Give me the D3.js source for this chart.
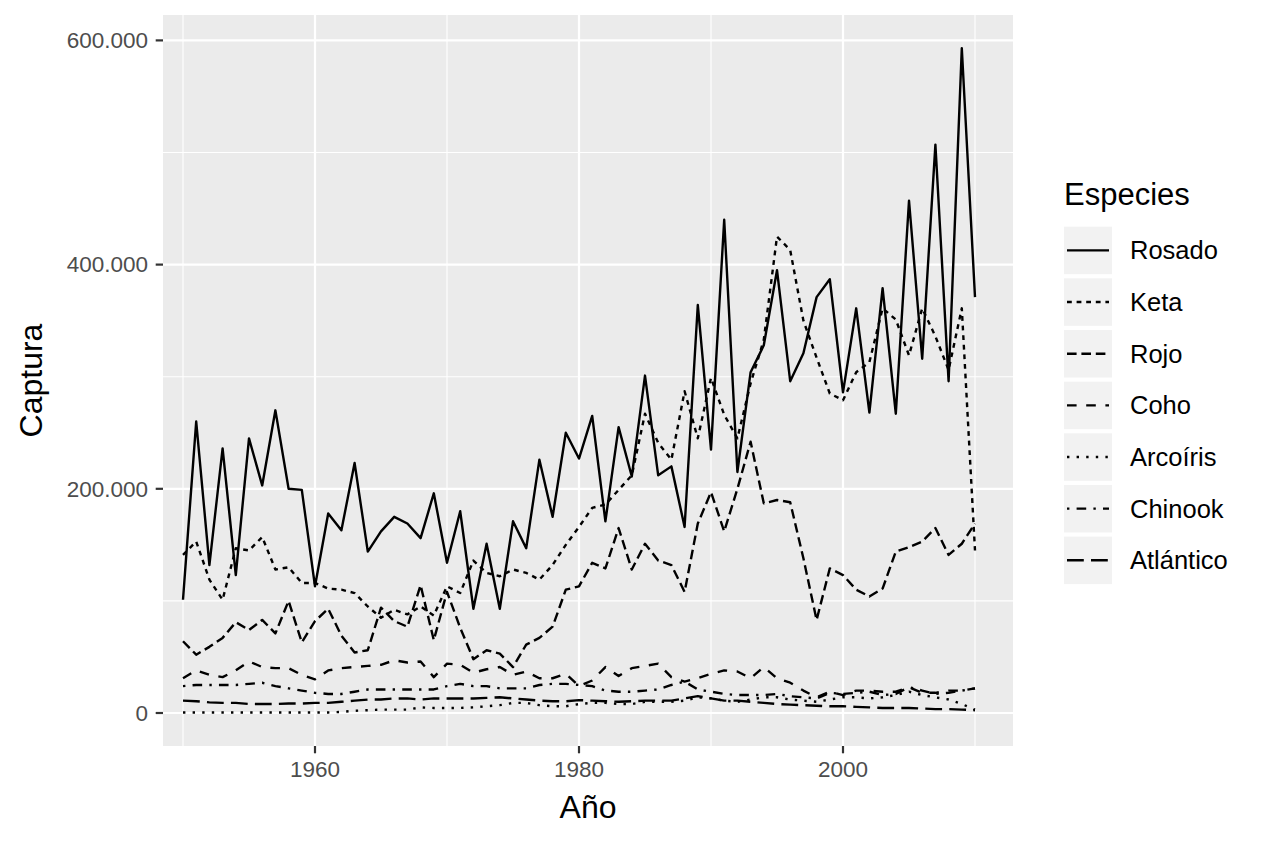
<!DOCTYPE html>
<html>
<head>
<meta charset="utf-8">
<script src="https://d3js.org/d3.v7.min.js"></script>
<style>
    body { margin: 0; background: #fff; }
    text { font-family: "Liberation Sans", Arial, sans-serif; }
</style>
</head>
<body>
<div class="chart"></div>
<script>
// capturas en miles, 1950-2010
let years = d3.range(1950, 2011)
let especies = ["Rosado", "Keta", "Rojo", "Coho", "Arcoíris", "Chinook", "Atlántico"]

let rosado = [101, 260, 132, 236, 123, 245, 203, 270, 200, 199,
    113, 178, 163, 223, 144, 162, 175, 169, 156, 196,
    134, 180, 93, 151, 93, 171, 147, 226, 175, 250,
    227, 265, 171, 255, 211, 301, 212, 220, 166, 364,
    235, 440, 215, 304, 328, 395, 296, 321, 371, 387,
    286, 361, 268, 379, 267, 457, 316, 507, 296, 593,
    371]
let keta = [141, 153, 119, 101, 147, 145, 157, 128, 130, 116,
    116, 111, 110, 107, 95, 85, 92, 88, 95, 87,
    113, 107, 136, 125, 122, 128, 125, 119, 132, 150,
    166, 183, 186, 199, 212, 267, 241, 226, 287, 245,
    299, 266, 245, 294, 333, 425, 413, 350, 317, 285,
    279, 304, 313, 361, 351, 319, 361, 336, 306, 361,
    145]
let rojo = [64, 52, 59, 67, 81, 74, 83, 71, 100, 63,
    82, 93, 69, 54, 56, 94, 82, 77, 114, 65,
    108, 76, 48, 56, 53, 41, 61, 67, 77, 110,
    113, 134, 129, 165, 128, 151, 136, 132, 108, 169,
    197, 162, 200, 242, 187, 190, 188, 138, 83, 129,
    123, 110, 104, 111, 144, 148, 153, 165, 141, 151,
    169]
let coho = [31, 38, 34, 32, 38, 46, 41, 40, 40, 34,
    30, 38, 40, 41, 42, 43, 47, 45, 46, 32,
    44, 43, 36, 39, 41, 34, 37, 31, 31, 35,
    24, 29, 41, 33, 40, 42, 44, 32, 28, 31,
    35, 38, 37, 31, 41, 31, 27, 20, 14, 19,
    16, 20, 20, 19, 19, 23, 18, 18, 20, 20,
    22]
let arcoiris = [0.5, 0.5, 0.5, 0.5, 0.5, 0.5, 0.5, 0.5, 0.5, 0.5,
    0.5, 0.5, 1, 2, 2.5, 3, 3, 3, 5, 4.5,
    4.5, 4.5, 5, 6, 7, 9, 9, 7, 6, 6,
    8, 9, 9, 8, 8, 10, 10, 10, 11, 14,
    13, 11, 10, 12, 14, 14, 12, 11, 10, 12,
    14, 14, 13, 14, 16, 19, 16, 14, 12, 8,
    3]
let chinook = [24, 25, 25, 25, 25, 26, 27, 24, 22, 20,
    18, 17, 17, 19, 21, 21, 21, 21, 21, 21,
    24, 26, 24, 24, 22, 22, 22, 25, 26, 26,
    25, 24, 20, 19, 19, 20, 21, 25, 28, 21,
    19, 17, 16, 16, 16, 17, 15, 14, 13, 18,
    17, 18, 19, 16, 17, 23, 20, 17, 18, 20,
    22]
let atlantico = [11, 10.5, 9.5, 9, 9, 8, 8, 8, 8.5, 8.5,
    9, 9, 10, 11, 12, 12, 13, 13, 12, 13,
    13, 13, 13, 13.5, 14, 13, 12, 11, 10.5, 10.5,
    11.5, 11, 10.5, 10, 10.5, 11, 11, 11, 13, 15,
    13, 11, 11, 10, 9, 8, 7.5, 7, 6.5, 6,
    6, 5.5, 5, 4.5, 4.5, 4.5, 4, 3.5, 3.5, 3,
    2.5]

let series = [rosado, keta, rojo, coho, arcoiris, chinook, atlantico]
let yMajor = [0, 200, 400, 600], yMinor = [100, 300, 500]
let xMajor = [1960, 1980, 2000], xMinor = [1950, 1970, 1990, 2010]

let width = 1264, height = 843
let panel = {left: 163, right: 1013, top: 15, bottom: 746}
let lw = 2.4, gw = 2.2
// tipos de linea de ggplot: solid, 22, 42, 44, 13, 1343, 73
let dashes = ["none", [2, 2], [4, 2], [4, 4], [1, 3], [1, 3, 4, 3], [7, 3]]
    .map(d => d === "none" ? "none" : d.map(v => v * lw).join(","))

let svg = d3.select(".chart")
    .append("svg")
    .attr("width", width)
    .attr("height", height)

let xScale = d3.scaleLinear().domain([1950, 2010]).range([183, 975])
let yScale = d3.scaleLinear().domain([0, 600]).range([713, 40.4])

let es = d3.formatLocale({decimal: ",", thousands: ".", grouping: [3], currency: ["", "€"]})
let fmt = es.format(",")

svg.append("rect")
    .attr("x", panel.left)
    .attr("y", panel.top)
    .attr("width", panel.right - panel.left)
    .attr("height", panel.bottom - panel.top)
    .attr("fill", "#ebebeb")

//rejilla
let grid = svg.append("g")
grid.selectAll(".ymin").data(yMinor).enter().append("line")
    .attr("x1", panel.left).attr("x2", panel.right)
    .attr("y1", d => yScale(d)).attr("y2", d => yScale(d))
    .attr("stroke", "#fff").attr("stroke-width", gw / 2)
grid.selectAll(".xmin").data(xMinor).enter().append("line")
    .attr("y1", panel.top).attr("y2", panel.bottom)
    .attr("x1", d => xScale(d)).attr("x2", d => xScale(d))
    .attr("stroke", "#fff").attr("stroke-width", gw / 2)
grid.selectAll(".ymaj").data(yMajor).enter().append("line")
    .attr("x1", panel.left).attr("x2", panel.right)
    .attr("y1", d => yScale(d)).attr("y2", d => yScale(d))
    .attr("stroke", "#fff").attr("stroke-width", gw)
grid.selectAll(".xmaj").data(xMajor).enter().append("line")
    .attr("y1", panel.top).attr("y2", panel.bottom)
    .attr("x1", d => xScale(d)).attr("x2", d => xScale(d))
    .attr("stroke", "#fff").attr("stroke-width", gw)

//lineas
let line = d3.line()
    .x((d, i) => xScale(years[i]))
    .y(d => yScale(d))
svg.append("g")
    .selectAll("path")
    .data(series)
    .enter()
    .append("path")
    .attr("d", d => line(d))
    .attr("fill", "none")
    .attr("stroke", "#000")
    .attr("stroke-width", lw)
    .attr("stroke-linejoin", "round")
    .attr("stroke-dasharray", (d, i) => dashes[i])

//ejes
let ticks = svg.append("g").attr("stroke", "#333").attr("stroke-width", gw)
ticks.selectAll(".ty").data(yMajor).enter().append("line")
    .attr("x1", panel.left - 7.3).attr("x2", panel.left)
    .attr("y1", d => yScale(d)).attr("y2", d => yScale(d))
ticks.selectAll(".tx").data(xMajor).enter().append("line")
    .attr("y1", panel.bottom).attr("y2", panel.bottom + 7.3)
    .attr("x1", d => xScale(d)).attr("x2", d => xScale(d))

svg.append("g")
    .selectAll("text")
    .data(yMajor)
    .enter()
    .append("text")
    .attr("x", panel.left - 15)
    .attr("y", d => yScale(d))
    .attr("dy", "0.35em")
    .attr("text-anchor", "end")
    .attr("font-size", 22.5)
    .attr("fill", "#4d4d4d")
    .text(d => fmt(d * 1000))
svg.append("g")
    .selectAll("text")
    .data(xMajor)
    .enter()
    .append("text")
    .attr("x", d => xScale(d))
    .attr("y", panel.bottom + 31)
    .attr("text-anchor", "middle")
    .attr("font-size", 22.5)
    .attr("fill", "#4d4d4d")
    .text(d => d)

svg.append("text")
    .attr("x", (panel.left + panel.right) / 2)
    .attr("y", 818)
    .attr("text-anchor", "middle")
    .attr("font-size", 32)
    .attr("fill", "#000")
    .text("Año")
svg.append("text")
    .attr("transform", `translate(42,${(panel.top + panel.bottom) / 2}) rotate(-90)`)
    .attr("text-anchor", "middle")
    .attr("font-size", 32)
    .attr("fill", "#000")
    .text("Captura")

//leyenda
let legend = svg.append("g")
legend.append("text")
    .attr("x", 1064)
    .attr("y", 205)
    .attr("font-size", 31)
    .attr("fill", "#000")
    .text("Especies")
let keys = legend.selectAll(".key")
    .data(especies)
    .enter()
    .append("g")
    .attr("transform", (d, i) => `translate(1064,${226.7 + i * 51.65})`)
keys.append("rect")
    .attr("width", 48)
    .attr("height", 47.5)
    .attr("fill", "#f2f2f2")
keys.append("line")
    .attr("x1", 3).attr("x2", 45)
    .attr("y1", 23.7).attr("y2", 23.7)
    .attr("stroke", "#000")
    .attr("stroke-width", lw)
    .attr("stroke-dasharray", (d, i) => dashes[i])
keys.append("text")
    .attr("x", 66)
    .attr("y", 23.7)
    .attr("dy", "0.35em")
    .attr("font-size", 25.5)
    .attr("fill", "#000")
    .text(d => d)
</script>
</body>
</html>
